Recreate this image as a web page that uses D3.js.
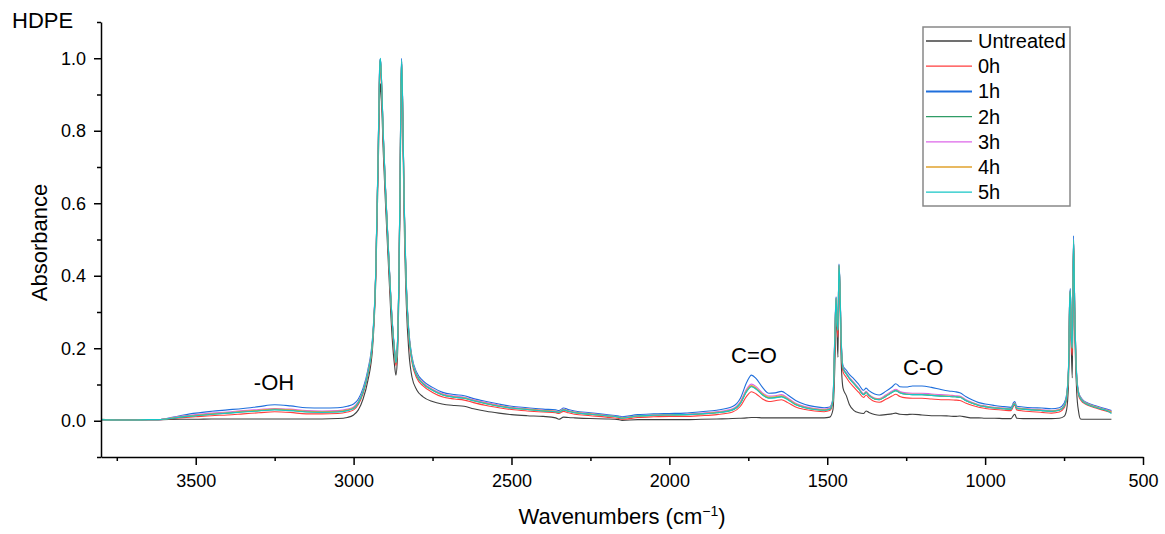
<!DOCTYPE html>
<html>
<head>
<meta charset="utf-8">
<script src="https://cdn.jsdelivr.net/npm/d3@7"></script>
<style>
	body { margin: 0; background: #fff; }
	svg text { font-family: "Liberation Sans", Arial, sans-serif; fill: #000; }
</style>
</head>
<body>
<svg id="ftir-svg"></svg>
<script>
'use strict'

// wavenumbers (cm-1), shared by every series
var wavenumbers = [3800, 3750, 3700, 3650, 3620, 3550, 3500, 3450, 3400, 3350, 3300, 3250, 3200, 3150, 3100, 3050, 3020, 3000, 2985, 2970,
	2955, 2940, 2930, 2922, 2917, 2915, 2912, 2906, 2898, 2888, 2878, 2870, 2866, 2862, 2857, 2853, 2850, 2848, 2845, 2840,
	2833, 2825, 2815, 2800, 2780, 2750, 2720, 2680, 2650, 2620, 2580, 2540, 2500, 2450, 2400, 2360, 2350, 2335, 2320, 2300,
	2250, 2200, 2160, 2150, 2100, 2050, 2000, 1950, 1900, 1850, 1800, 1775, 1755, 1740, 1725, 1705, 1685, 1665, 1645, 1625,
	1600, 1570, 1540, 1510, 1492, 1482, 1476, 1472, 1469, 1466, 1463, 1460, 1456, 1450, 1440, 1430, 1415, 1400, 1385, 1377,
	1368, 1350, 1335, 1315, 1295, 1283, 1270, 1250, 1230, 1200, 1170, 1140, 1115, 1095, 1080, 1060, 1040, 1020, 1000, 970,
	940, 918, 910, 906, 900, 880, 850, 820, 790, 765, 750, 742, 736, 732, 730, 727, 724, 720, 716, 710,
	704, 698, 690, 675, 660, 645, 630, 615, 600];

var untreated = [.004, .003, .003, .003, .003, .004, .004, .005, .005, .005, .005, .005, .005, .005, .005, .006, .009, .016, .030, .060,
	.110, .200, .380, .700, .900, .930, .890, .740, .580, .400, .230, .150, .126, .160, .330, .600, .880, .960, .850, .560,
	.320, .190, .120, .085, .066, .053, .046, .042, .040, .033, .026, .021, .017, .014, .012, .008, .004, .010, .009, .008,
	.006, .005, .003, .001, .003, .003, .003, .003, .004, .005, .006, .007, .008, .009, .009, .008, .008, .008, .008, .008,
	.008, .008, .008, .008, .010, .030, .150, .300, .240, .175, .420, .350, .170, .090, .070, .045, .028, .022, .020, .027,
	.023, .017, .015, .017, .019, .021, .018, .017, .018, .016, .014, .014, .013, .012, .013, .010, .008, .008, .007, .007,
	.006, .006, .015, .018, .007, .006, .006, .006, .006, .007, .012, .030, .100, .300, .330, .200, .118, .490, .250, .080,
	.025, .005, .004, .004, .004, .004, .004, .004, .004];

var h0 = [.003, .002, .002, .003, .003, .008, .011, .014, .016, .019, .022, .025, .023, .019, .019, .020, .024, .030, .045, .075,
	.125, .215, .400, .740, .960, .975, .930, .770, .610, .430, .265, .180, .152, .185, .360, .630, .900, .975, .880, .600,
	.360, .230, .160, .118, .096, .078, .066, .060, .057, .050, .042, .036, .031, .027, .024, .022, .020, .026, .022, .018,
	.014, .010, .006, .004, .009, .011, .012, .012, .014, .017, .024, .040, .068, .080, .074, .060, .053, .055, .058, .050,
	.038, .031, .027, .025, .028, .050, .200, .320, .260, .230, .400, .360, .210, .135, .120, .107, .092, .078, .064, .071,
	.063, .053, .051, .059, .068, .073, .067, .063, .062, .062, .060, .058, .058, .057, .056, .048, .042, .037, .034, .031,
	.029, .028, .040, .043, .030, .027, .025, .023, .021, .024, .035, .060, .130, .320, .340, .210, .180, .480, .280, .110,
	.070, .058, .050, .043, .038, .034, .030, .026, .022];

var h1 = [.003, .002, .002, .003, .003, .014, .021, .026, .030, .034, .039, .044, .041, .036, .035, .036, .040, .046, .060, .090,
	.140, .230, .410, .755, .990, .998, .950, .790, .625, .445, .280, .195, .165, .198, .375, .645, .925, 1.0, .895, .615,
	.378, .248, .176, .133, .110, .092, .079, .072, .069, .061, .053, .046, .040, .036, .032, .030, .028, .035, .031, .027,
	.022, .017, .013, .011, .017, .019, .020, .021, .025, .029, .039, .062, .106, .126, .116, .092, .076, .077, .081, .071,
	.056, .045, .039, .036, .038, .062, .240, .342, .275, .255, .432, .385, .232, .152, .140, .128, .115, .100, .084, .090,
	.083, .074, .071, .081, .093, .102, .094, .093, .096, .096, .092, .086, .082, .080, .077, .066, .057, .050, .046, .042,
	.039, .037, .050, .053, .040, .038, .036, .035, .033, .036, .048, .072, .145, .345, .365, .235, .205, .510, .305, .128,
	.080, .066, .057, .049, .044, .040, .036, .032, .028];

var h2 = [.003, .002, .002, .003, .003, .010, .014, .018, .021, .025, .028, .031, .029, .025, .024, .025, .029, .035, .050, .080,
	.130, .220, .405, .750, .980, .995, .945, .785, .620, .440, .275, .190, .160, .193, .370, .640, .918, .990, .888, .608,
	.370, .240, .168, .125, .102, .084, .072, .065, .062, .055, .047, .040, .035, .031, .027, .025, .023, .030, .026, .022,
	.018, .014, .010, .007, .013, .015, .016, .017, .019, .022, .030, .048, .082, .095, .088, .072, .063, .064, .067, .059,
	.045, .036, .031, .029, .032, .055, .230, .338, .270, .250, .428, .378, .225, .145, .130, .117, .102, .087, .072, .078,
	.070, .060, .058, .067, .078, .083, .077, .073, .072, .072, .070, .068, .067, .066, .065, .055, .048, .042, .039, .035,
	.033, .032, .045, .047, .034, .032, .030, .028, .026, .029, .040, .065, .140, .338, .358, .230, .200, .498, .300, .120,
	.075, .062, .053, .045, .040, .036, .032, .028, .024];

var h3 = [.003, .002, .002, .003, .003, .012, .017, .021, .024, .028, .031, .034, .032, .028, .027, .028, .032, .038, .053, .083,
	.133, .223, .407, .752, .985, .998, .948, .788, .622, .442, .278, .192, .162, .195, .372, .642, .920, .993, .890, .610,
	.372, .242, .171, .128, .105, .087, .075, .068, .065, .058, .050, .043, .037, .033, .029, .027, .025, .032, .028, .024,
	.020, .015, .011, .009, .014, .016, .017, .018, .021, .025, .033, .053, .088, .101, .094, .077, .068, .069, .072, .063,
	.048, .039, .034, .032, .035, .058, .235, .340, .272, .252, .430, .380, .228, .148, .133, .120, .105, .090, .075, .081,
	.073, .063, .061, .071, .082, .087, .081, .077, .076, .076, .074, .072, .071, .069, .068, .058, .050, .044, .041, .037,
	.035, .034, .047, .049, .036, .034, .032, .030, .028, .031, .042, .067, .142, .340, .360, .232, .202, .500, .302, .122,
	.077, .064, .055, .047, .042, .038, .034, .030, .026];

var h4 = [.003, .002, .002, .003, .003, .011, .015, .019, .022, .026, .029, .032, .030, .026, .025, .026, .030, .036, .051, .081,
	.131, .221, .405, .750, .980, .995, .945, .785, .620, .440, .275, .190, .160, .193, .370, .640, .918, .990, .888, .608,
	.370, .240, .169, .126, .103, .085, .073, .066, .063, .056, .048, .041, .036, .032, .028, .026, .024, .031, .027, .023,
	.019, .014, .010, .008, .013, .015, .016, .017, .019, .023, .031, .050, .084, .097, .090, .074, .065, .066, .069, .060,
	.046, .037, .032, .030, .033, .056, .230, .338, .270, .250, .428, .378, .225, .146, .131, .118, .103, .088, .073, .079,
	.071, .061, .059, .068, .079, .084, .078, .074, .073, .073, .071, .069, .068, .067, .066, .056, .049, .043, .040, .036,
	.034, .033, .046, .048, .035, .033, .031, .029, .027, .030, .041, .066, .140, .338, .358, .230, .200, .498, .300, .120,
	.076, .063, .054, .046, .041, .037, .033, .029, .025];

var h5 = [.003, .002, .002, .003, .003, .010, .014, .018, .021, .024, .027, .030, .028, .024, .023, .024, .028, .034, .050, .080,
	.130, .220, .405, .750, .985, 1.0, .950, .790, .620, .440, .275, .190, .160, .193, .370, .640, .920, .995, .890, .610,
	.370, .240, .168, .125, .102, .084, .072, .065, .062, .055, .047, .040, .035, .031, .027, .025, .023, .030, .026, .022,
	.018, .014, .010, .007, .013, .015, .016, .017, .019, .022, .030, .048, .081, .094, .087, .071, .062, .063, .066, .058,
	.044, .036, .031, .029, .032, .055, .230, .340, .270, .250, .430, .380, .225, .145, .130, .117, .102, .087, .072, .078,
	.070, .060, .058, .067, .078, .083, .077, .073, .072, .072, .070, .068, .067, .066, .065, .055, .048, .042, .039, .035,
	.033, .032, .045, .047, .034, .032, .030, .028, .026, .029, .040, .065, .140, .340, .360, .230, .200, .500, .300, .120,
	.075, .062, .053, .045, .040, .036, .032, .028, .020];

var seriesNames = ["Untreated", "0h", "1h", "2h", "3h", "4h", "5h"];
var seriesValues = [untreated, h0, h1, h2, h3, h4, h5];
var seriesColors = ["#404040", "#ff3d3d", "#1f6fdc", "#2f9c66", "#dc66e8", "#e0a22c", "#16c6c6"];

var xTicks = [3500, 3000, 2500, 2000, 1500, 1000, 500];
var xMinorTicks = [3750, 3250, 2750, 2250, 1750, 1250, 750];
var yTicks = [0.0, 0.2, 0.4, 0.6, 0.8, 1.0];
var yMinorTicks = [-0.1, 0.1, 0.3, 0.5, 0.7, 0.9, 1.1];

var bandLabels = ["-OH", "C=O", "C-O"];
var bandWavenumbers = [3252, 1732, 1196];
var bandLevels = [0.085, 0.159, 0.126];

var FtirChart = function () {

	var WIDTH = 1165,
		HEIGHT = 534;

	var plot = {
		left: 101,
		right: 1143,
		top: 22,
		bottom: 457
	};

	this.initialize = function () {

		var svg = d3.select("#ftir-svg")
			.attr('width', WIDTH)
			.attr('height', HEIGHT);

		var x = d3.scaleLinear()
			.domain([3800, 500])
			.range([plot.left, plot.right]);

		var y = d3.scaleLinear()
			.domain([-0.1, 1.1])
			.range([plot.bottom, plot.top]);

		var line = d3.line()
			.x(function (d) { return x(d[0]); })
			.y(function (d) { return y(d[1]); })
			.curve(d3.curveMonotoneX);

		// spectra, untreated first so 5h ends up on top
		seriesValues.forEach(function (vals, i) {
			var pts = wavenumbers.map(function (w, j) { return [w, vals[j]]; });
			svg.append('path')
				.datum(pts)
				.attr('d', line)
				.style('fill', 'none')
				.style('stroke', seriesColors[i])
				.style('stroke-width', 1.1)
				.style('stroke-linejoin', 'round');
		});

		// axes
		svg.append('g')
			.attr('transform', 'translate(0,' + plot.bottom + ')')
			.call(d3.axisBottom(x).tickValues(xTicks).tickSize(8).tickPadding(9).tickFormat(d3.format('d')).tickSizeOuter(0));

		svg.append('g')
			.attr('transform', 'translate(0,' + plot.bottom + ')')
			.call(d3.axisBottom(x).tickValues(xMinorTicks).tickSize(4).tickFormat('').tickSizeOuter(0))
			.select('.domain').remove();

		svg.append('g')
			.attr('transform', 'translate(' + plot.left + ',0)')
			.call(d3.axisLeft(y).tickValues(yTicks).tickSize(7).tickPadding(8).tickFormat(d3.format('.1f')).tickSizeOuter(0));

		svg.append('g')
			.attr('transform', 'translate(' + plot.left + ',0)')
			.call(d3.axisLeft(y).tickValues(yMinorTicks).tickSize(4).tickFormat('').tickSizeOuter(0))
			.select('.domain').remove();

		svg.selectAll('.domain, .tick line')
			.style('stroke', '#000')
			.style('stroke-width', 1.5);

		svg.selectAll('.tick text')
			.style('font-size', '18px')
			.style('font-family', '"Liberation Sans", Arial, sans-serif');

		// axis titles
		var xTitle = svg.append('text')
			.attr('x', (plot.left + plot.right) / 2)
			.attr('y', 524)
			.attr('text-anchor', 'middle')
			.style('font-size', '22px');
		xTitle.append('tspan').text('Wavenumbers (cm');
		xTitle.append('tspan')
			.attr('dy', -8)
			.style('font-size', '14px')
			.text('\u22121');
		xTitle.append('tspan')
			.attr('dy', 8)
			.text(')');

		svg.append('text')
			.attr('transform', 'translate(47,' + ((plot.top + plot.bottom) / 2 + 3) + ') rotate(-90)')
			.attr('text-anchor', 'middle')
			.style('font-size', '22px')
			.text('Absorbance');

		svg.append('text')
			.attr('x', 12)
			.attr('y', 28)
			.style('font-size', '22px')
			.text('HDPE');

		// band annotations
		bandLabels.forEach(function (lab, i) {
			svg.append('text')
				.attr('x', x(bandWavenumbers[i]))
				.attr('y', y(bandLevels[i]))
				.attr('text-anchor', 'middle')
				.style('font-size', '22px')
				.text(lab);
		});

		// legend
		var legend = svg.append('g')
			.attr('transform', 'translate(923,27)');

		legend.append('rect')
			.attr('x', 0)
			.attr('y', 0)
			.attr('width', 147)
			.attr('height', 179)
			.style('fill', '#fff')
			.style('stroke', '#888')
			.style('stroke-width', 1.5);

		seriesNames.forEach(function (name, i) {
			var cy = 14 + i * 25.2;
			legend.append('line')
				.attr('x1', 3)
				.attr('x2', 49)
				.attr('y1', cy)
				.attr('y2', cy)
				.style('stroke', seriesColors[i])
				.style('stroke-width', i == 2 ? 2 : 1.3);
			legend.append('text')
				.attr('x', 55)
				.attr('y', cy + 7)
				.style('font-size', '20px')
				.text(name);
		});
	}
}

new FtirChart().initialize();
</script>
</body>
</html>
